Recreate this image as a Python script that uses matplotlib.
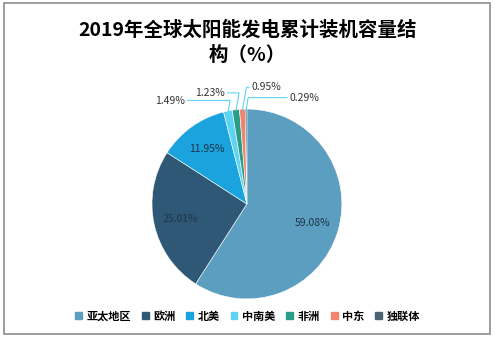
import numpy as np
import matplotlib.pyplot as plt
from matplotlib.patches import Rectangle

plt.rcParams['font.family'] = ['Noto Sans CJK SC', 'DejaVu Sans']

regions = ['亚太地区', '欧洲', '北美', '中南美', '非洲', '中东', '独联体']
shares = [59.08, 25.01, 11.95, 1.49, 1.23, 0.95, 0.29]
colors = ['#5c9ec0', '#2f5877', '#1aa3dc', '#5fd3f3', '#2a9d88', '#f0846c', '#4b6272']

fig = plt.figure(figsize=(4.95, 3.38), dpi=100)
fig.patches.append(Rectangle((0.008, 0.012), 0.982, 0.978, transform=fig.transFigure,
                             fill=False, edgecolor='#8c8c8c', linewidth=1.2))

fig.text(0.5, 0.912, '2019年全球太阳能发电累计装机容量结', ha='center', va='center',
         fontsize=14, fontweight='bold')
fig.text(0.5, 0.837, '构（%）', ha='center', va='center', fontsize=14, fontweight='bold')

ax = fig.add_axes([0.2303, 0.003, 0.537, 0.787])
wedges, _ = ax.pie(shares, colors=colors, startangle=90, counterclock=False,
                   radius=1, wedgeprops=dict(linewidth=0.4, edgecolor='white'))
ax.set_xlim(-1.4, 1.4)
ax.set_ylim(-1.4, 1.4)
ax.set_aspect('equal')
ax.axis('off')

# inside labels for big slices
for w, v in zip(wedges[:3], shares[:3]):
    ang = np.deg2rad((w.theta1 + w.theta2) / 2)
    r = 0.72
    ax.text(r * np.cos(ang), r * np.sin(ang), f'{v:.2f}%', ha='center', va='center',
            fontsize=7.5, color='#1d3447')

# outside labels for the small slices
label_pos = [(-0.81, 1.09), (-0.39, 1.17), (0.21, 1.23), (0.61, 1.12)]
for w, v, (tx, ty) in zip(wedges[3:], shares[3:], label_pos):
    ang = np.deg2rad((w.theta1 + w.theta2) / 2)
    ex, ey = 0.99 * np.cos(ang), 0.99 * np.sin(ang)
    ax.annotate(f'{v:.2f}%', xy=(ex, ey), xytext=(tx, ty), ha='center', va='center',
                fontsize=7.5, color='#333333',
                arrowprops=dict(arrowstyle='-', color='#5fd3f3', lw=0.8,
                                shrinkA=0, shrinkB=0,
                                connectionstyle='angle,angleA=0,angleB=80,rad=0'))

handles = [Rectangle((0, 0), 1, 1, color=c) for c in colors]
fig.legend(handles, regions, loc='center', bbox_to_anchor=(0.5, 0.065), ncol=7,
           frameon=False, handlelength=0.6, handleheight=0.6,
           handletextpad=0.4, columnspacing=1.0, prop={'weight': 'bold', 'size': 8})

fig.savefig('out.png', dpi=100)
